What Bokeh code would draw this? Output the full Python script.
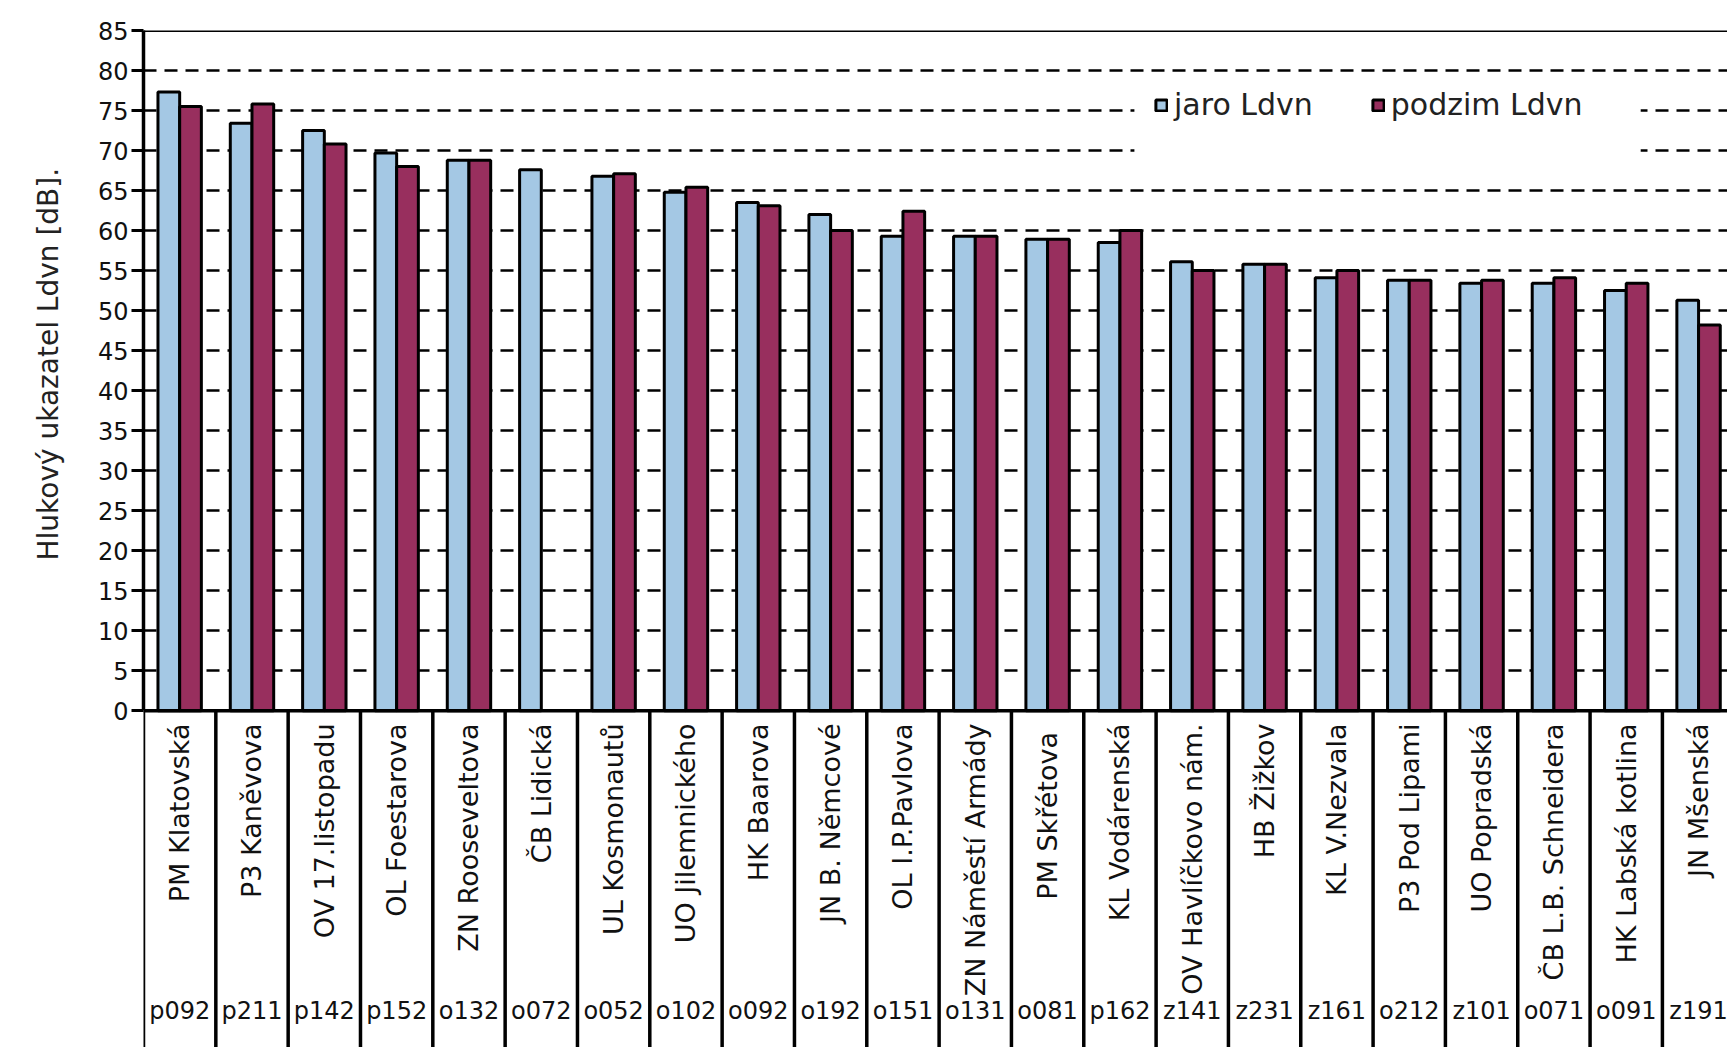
import numpy as np
from bokeh.plotting import figure
from bokeh.models import (Range1d, FixedTicker, Span, Legend, LegendItem, ColumnDataSource,
                          Title, BoxAnnotation)
from bokeh.core.properties import value
from bokeh.transform import dodge
from bokeh.embed import file_html
from bokeh.resources import INLINE

categories = ["PM Klatovská", "P3 Kaněvova", "OV 17.listopadu", "OL Foestarova",
              "ZN Rooseveltova", "ČB Lidická", "UL Kosmonautů", "UO Jilemnického",
              "HK Baarova", "JN B. Němcové", "OL I.P.Pavlova", "ZN Náměstí Armády",
              "PM  Skřétova", "KL Vodárenská", "OV Havlíčkovo nám.", "HB Žižkov",
              "KL V.Nezvala", "P3 Pod Lipami", "UO Popradská", "ČB L.B. Schneidera",
              "HK Labská kotlina", "JN Mšenská"]
codes = ["p092", "p211", "p142", "p152", "o132", "o072", "o052", "o102", "o092",
         "o192", "o151", "o131", "o081", "p162", "z141", "z231", "z161", "o212",
         "z101", "o071", "o091", "z191"]
jaro = [77.3, 73.4, 72.5, 69.7, 68.8, 67.6, 66.8, 64.8, 63.5, 62.0, 59.3, 59.3,
        58.9, 58.5, 56.1, 55.8, 54.1, 53.8, 53.4, 53.4, 52.5, 51.3]
podzim = [75.5, 75.8, 70.8, 68.0, 68.8, float("nan"), 67.1, 65.4, 63.1, 60.0, 62.4, 59.3,
          58.9, 60.0, 55.0, 55.8, 55.0, 53.8, 53.8, 54.1, 53.4, 48.2]
y_ticks = list(range(0, 90, 5))
y_title = "Hlukový ukazatel Ldvn  [dB]."

FONT = "DejaVu Sans"
n = len(categories)
xs = np.arange(n)

p = figure(width=1727, height=1047, output_backend="svg", toolbar_location=None,
           x_range=Range1d(-0.5, 21.4), y_range=Range1d(-42.1, 85),
           x_axis_location=None, min_border_left=143, min_border_right=0,
           min_border_top=30, min_border_bottom=0)
p.outline_line_color = None
p.background_fill_color = "white"

# y axis
ax = p.yaxis[0]
ax.ticker = FixedTicker(ticks=y_ticks)
ax.bounds = (0, 85)
ax.axis_line_width = 3.5
ax.axis_line_color = "black"
ax.major_tick_line_width = 3
ax.major_tick_line_color = "black"
ax.major_tick_out = 12
ax.major_tick_in = 0
ax.minor_tick_line_color = None
ax.major_label_text_font = FONT
ax.major_label_text_font_size = "24px"
ax.major_label_text_color = "#111111"
ax.major_label_standoff = 3

# y axis title (placed as a side title so it can sit beside the 0-85 part)
p.add_layout(Title(text=y_title, align="left", offset=487, vertical_align="middle",
                   standoff=58, text_font=FONT, text_font_size="28px",
                   text_font_style="normal", text_color="#222222"), "left")

# grid
p.xgrid.visible = False
p.ygrid.ticker = FixedTicker(ticks=y_ticks[1:-1])
p.ygrid.grid_line_color = "black"
p.ygrid.grid_line_width = 2.6
p.ygrid.grid_line_dash = "13 8"

p.add_layout(Span(location=85, dimension="width", line_color="black", line_width=3))

src = ColumnDataSource(dict(x=xs, jaro=jaro, podzim=podzim))
r1 = p.vbar(x=dodge("x", -0.15), top="jaro", width=0.3, source=src,
            fill_color="#A4C8E4", line_color="black", line_width=3)
r2 = p.vbar(x=dodge("x", 0.15), top="podzim", width=0.3, source=src,
            fill_color="#982F5E", line_color="black", line_width=3)

p.add_layout(Span(location=0, dimension="width", line_color="black", line_width=3.5))

# category separators and labels
sep = np.arange(n + 1) - 0.5
p.segment(x0=sep, y0=[0] * (n + 1), x1=sep, y1=[-43] * (n + 1),
          line_color="black", line_width=3.5)
p.text(x=xs, y=[-1.6] * n, text=categories, angle=np.pi / 2, text_align="right",
       text_baseline="middle", text_font=value(FONT), text_font_size="27px",
       text_color="#111111")
p.text(x=xs, y=[-37.6] * n, text=codes, text_align="center", text_baseline="middle",
       text_font=value(FONT), text_font_size="24px", text_color="#111111")

# white area behind legend (hides grid lines)
p.add_layout(BoxAnnotation(left=13.2, right=20.2, bottom=68.7, top=78.1,
                           fill_color="white", fill_alpha=1.0, line_color=None))

legend = Legend(items=[LegendItem(label="jaro Ldvn", renderers=[r1]),
                       LegendItem(label="podzim Ldvn", renderers=[r2])],
                orientation="horizontal", location=(1011, 925))
legend.label_text_font = FONT
legend.label_text_font_size = "30px"
legend.label_text_color = "#222222"
legend.glyph_width = 14
legend.glyph_height = 14
legend.label_standoff = 6
legend.spacing = 58
legend.padding = 18
legend.margin = 0
legend.border_line_color = None
legend.background_fill_alpha = 0.0
p.add_layout(legend, "center")

open("out.html", "w").write(file_html(p, INLINE))
